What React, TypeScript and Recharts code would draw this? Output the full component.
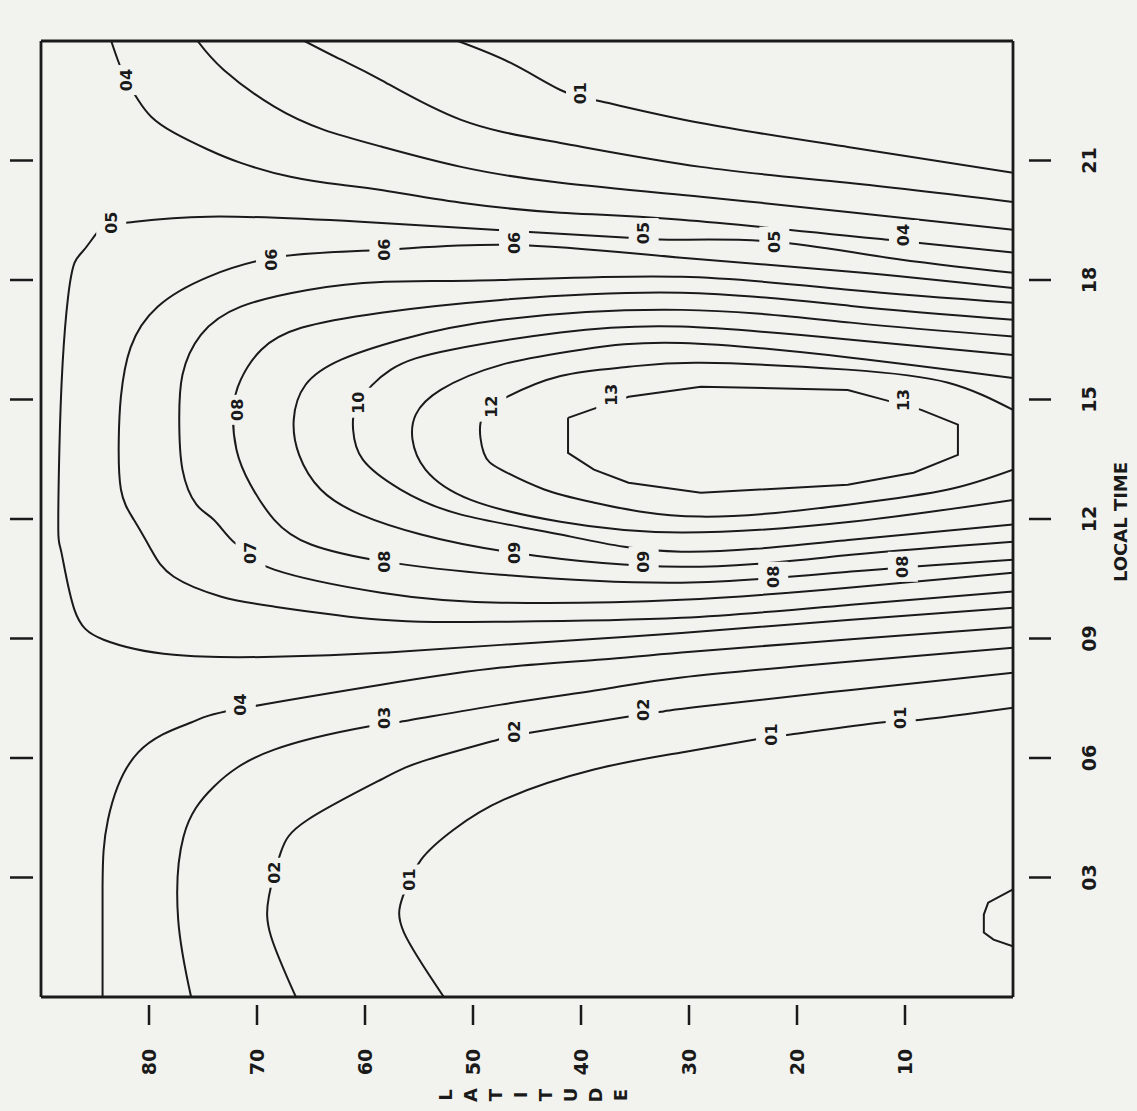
import React from 'react';
import { LineChart, Line, XAxis, YAxis, ReferenceDot } from 'recharts';

const latTicks = [10, 20, 30, 40, 50, 60, 70, 80];
const timeTicks = [3, 6, 9, 12, 15, 18, 21];
const timeLabels = ['03', '06', '09', '12', '15', '18', '21'];

// contour traces as [latitude, local time] pairs
const c00 = [[0, 2.7], [2.3, 2.37], [2.7, 2.07], [2.7, 1.62], [1.8, 1.44], [0, 1.27]];
const c01a = [[51.4, 24], [46.5, 23.45], [41.9, 22.77], [38.1, 22.48], [28.9, 21.94], [15.3, 21.34], [0, 20.69]];
const c01b = [[52.7, 0], [56.4, 1.62], [56.5, 2.52], [54.8, 3.45], [51.8, 4.2], [47.1, 4.96], [38.8, 5.71], [30.7, 6.14], [24.0, 6.46], [20.6, 6.59], [12.2, 6.89], [8.5, 6.96], [0, 7.26]];
const c02a = [[65.6, 24], [62.2, 23.53], [58.5, 23.02], [51.1, 22.02], [41.9, 21.44], [28.9, 20.84], [15.3, 20.44], [0, 19.96]];
const c02b = [[66.4, 0], [68.7, 1.52], [68.9, 2.52], [67.8, 3.63], [65.3, 4.45], [58.5, 5.46], [54.2, 5.96], [47.7, 6.46], [44.6, 6.64], [36.3, 7.01], [32.6, 7.16], [28.9, 7.29], [15.0, 7.71], [0, 8.14]];
const c03a = [[75.5, 24], [73.1, 23.28], [68.4, 22.35], [63.8, 21.77], [58.5, 21.35], [51.1, 20.84], [41.9, 20.44], [28.9, 20.09], [15.3, 19.71], [0, 19.26]];
const c03b = [[76.1, 0], [77.3, 1.95], [76.8, 4.03], [74.0, 5.28], [68.4, 6.21], [59.7, 6.79], [56.7, 6.91], [47.4, 7.34], [38.1, 7.72], [30.7, 8.02], [15.0, 8.42], [0, 8.77]];
const c04a = [[83.5, 24], [82.9, 23.53], [82.1, 23.02], [81.0, 22.52], [79.8, 22.1], [77.7, 21.7], [74.5, 21.27], [71.5, 20.94], [66.9, 20.59], [62.2, 20.39], [58.5, 20.26], [51.1, 19.94], [41.9, 19.69], [30.7, 19.51], [11.6, 19.01], [0, 18.69]];
const c04b = [[84.3, 0], [84.3, 2.77], [83.8, 4.45], [81.0, 6.14], [76.1, 6.89], [72.1, 7.21], [58.5, 7.84], [47.4, 8.27], [38.1, 8.47], [30.7, 8.65], [15.0, 8.98], [0, 9.28]];
const c05 = [[0, 18.18], [11.6, 18.56], [22.1, 18.96], [30.7, 19.01], [35.6, 19.06], [48.1, 19.26], [60.4, 19.46], [74.5, 19.59], [82.3, 19.43], [84.4, 19.31], [86.0, 18.76], [86.9, 18.43], [87.5, 17.56], [88.0, 15.9], [88.3, 13.74], [88.4, 11.73], [88.1, 11.15], [86.9, 9.72], [84.2, 8.97], [77.7, 8.59], [68.4, 8.54], [58.5, 8.64], [47.4, 8.84], [30.7, 9.14], [15.0, 9.47], [0, 9.77]];
const c06 = [[0, 17.8], [15.0, 18.21], [30.7, 18.56], [46.2, 18.88], [58.2, 18.76], [67.5, 18.6], [74.5, 18.08], [79.2, 17.33], [81.7, 16.31], [82.6, 15.07], [82.8, 13.99], [82.6, 12.74], [81.4, 11.98], [79.8, 11.23], [77.7, 10.55], [73.3, 10.05], [68.4, 9.8], [58.5, 9.47], [47.4, 9.42], [30.7, 9.52], [15.0, 9.85], [0, 10.18]];
const c07 = [[0, 17.43], [15.0, 17.75], [30.7, 18.08], [47.4, 18.0], [58.5, 17.95], [65.3, 17.75], [71.5, 17.33], [75.2, 16.62], [76.9, 15.62], [77.2, 14.49], [76.9, 13.24], [75.6, 12.36], [74.0, 11.98], [72.1, 11.41], [70.6, 11.15], [68.4, 10.73], [58.5, 10.15], [47.4, 9.9], [30.7, 9.97], [15.0, 10.28], [0, 10.65]];
const c08 = [[0, 17.0], [15.0, 17.35], [30.7, 17.68], [47.4, 17.5], [58.5, 17.18], [65.9, 16.8], [69.6, 16.25], [71.5, 15.5], [72.2, 14.74], [71.9, 13.74], [70.6, 12.86], [68.4, 11.98], [65.0, 11.36], [58.2, 10.93], [47.4, 10.6], [30.7, 10.4], [15.0, 10.68], [0, 10.98]];
const c09 = [[0, 16.58], [15.0, 16.93], [30.7, 17.25], [47.4, 17.0], [56.7, 16.5], [62.2, 16.0], [65.5, 15.37], [66.6, 14.49], [66.1, 13.61], [64.1, 12.74], [60.4, 12.11], [54.8, 11.61], [46.2, 11.15], [30.7, 10.8], [15.0, 11.1], [0, 11.43]];
const c10 = [[0, 16.12], [15.0, 16.5], [30.7, 16.83], [41.9, 16.68], [52.0, 16.25], [57.6, 15.75], [60.6, 14.92], [61.1, 14.24], [60.2, 13.49], [56.7, 12.74], [51.1, 12.11], [41.9, 11.61], [30.7, 11.18], [15.0, 11.48], [0, 11.86]];
const c11 = [[0, 15.54], [15.0, 16.05], [30.7, 16.42], [40.0, 16.25], [47.4, 15.87], [53.0, 15.24], [55.3, 14.62], [55.6, 13.99], [54.4, 13.24], [50.2, 12.48], [41.9, 11.93], [30.7, 11.66], [15.0, 11.93], [0, 12.48]];
const c12 = [[0, 14.74], [6.0, 15.42], [15.3, 15.75], [28.9, 15.92], [35.6, 15.82], [41.9, 15.59], [46.8, 15.07], [48.3, 14.82], [49.3, 14.42], [49.0, 13.66], [47.4, 13.24], [43.4, 12.74], [38.8, 12.41], [28.9, 12.06], [15.3, 12.36], [6.0, 12.74], [0, 13.24]];
const c13 = [[41.2, 14.54], [41.2, 13.66], [38.8, 13.24], [35.6, 12.91], [28.9, 12.66], [15.3, 12.86], [9.2, 13.16], [5.1, 13.61], [5.1, 14.37], [8.5, 14.74], [11.9, 14.99], [15.3, 15.24], [28.9, 15.32], [35.6, 15.07], [39.1, 14.74], [41.2, 14.54]];

const curved = [c01a, c01b, c02a, c02b, c03a, c03b, c04a, c04b, c05, c06, c07, c08, c09, c10, c11, c12];
const angular = [c00, c13];

// [latitude, local time, text]
const contourLabels: [number, number, string][] = [
  [82.1, 23.02, '04'], [40.0, 22.69, '01'], [83.5, 19.44, '05'],
  [68.7, 18.51, '06'], [58.2, 18.76, '06'], [46.2, 18.93, '06'],
  [34.2, 19.18, '05'], [22.1, 18.96, '05'], [10.1, 19.13, '04'],
  [71.8, 14.74, '08'], [60.6, 14.92, '10'], [48.3, 14.82, '12'],
  [37.2, 15.12, '13'], [10.1, 14.99, '13'],
  [70.6, 11.15, '07'], [58.2, 10.93, '08'], [46.2, 11.15, '09'],
  [34.2, 10.93, '09'], [22.2, 10.55, '08'], [10.2, 10.8, '08'],
  [71.5, 7.34, '04'], [58.2, 7.01, '03'], [46.2, 6.66, '02'],
  [34.2, 7.21, '02'], [22.4, 6.59, '01'], [10.4, 7.01, '01'],
  [68.4, 3.12, '02'], [55.9, 2.95, '01'],
];

const ink = '#1a1a1a';
const paper = '#f2f2ef';
const font = 'DejaVu Sans, sans-serif';

const toPts = (a: number[][]) => a.map(([lat, t]) => ({ lat, t }));

const rot = (x: number, y: number) => `rotate(-90 ${x} ${y})`;

const LatTick = ({ x, y, payload }: any) => {
  const ty = y + 65;
  return (
    <g>
      <line x1={x} x2={x} y1={y + 8} y2={y + 28} stroke={ink} strokeWidth={2.5} />
      <text x={x} y={ty} transform={rot(x, ty)} textAnchor="middle" dominantBaseline="central"
        fontSize={19} fontWeight="bold" fontFamily={font} fill={ink}>{payload.value}</text>
    </g>
  );
};

const TopTick = ({ x, y }: any) => (
  <line x1={x} x2={x} y1={y - 29} y2={y - 10} stroke={ink} strokeWidth={2.5} />
);

const TimeTick = ({ x, y, payload }: any) => {
  const tx = x + 76;
  return (
    <g>
      <line x1={x + 16} x2={x + 38} y1={y} y2={y} stroke={ink} strokeWidth={2.5} />
      <text x={tx} y={y} transform={rot(tx, y)} textAnchor="middle" dominantBaseline="central"
        fontSize={19} fontWeight="bold" fontFamily={font} fill={ink}>
        {timeLabels[timeTicks.indexOf(payload.value)]}
      </text>
    </g>
  );
};

const LeftTick = ({ x, y }: any) => (
  <line x1={x - 31} x2={x - 8} y1={y} y2={y} stroke={ink} strokeWidth={2.5} />
);

const LatTitle = ({ viewBox }: any) => {
  const cx = viewBox.x + viewBox.width / 2 + 6;
  const cy = viewBox.y + 98;
  return (
    <g>
      {'LATITUDE'.split('').map((ch, i) => {
        const x = cx + (i - 3.5) * 25;
        return (
          <text key={i} x={x} y={cy} transform={rot(x, cy)} textAnchor="middle" dominantBaseline="central"
            fontSize={18} fontWeight="bold" fontFamily={font} fill={ink}>{ch}</text>
        );
      })}
    </g>
  );
};

const TimeTitle = ({ viewBox }: any) => {
  const x = viewBox.x + 107;
  const y = viewBox.y + viewBox.height / 2 + 3;
  return (
    <text x={x} y={y} transform={rot(x, y)} textAnchor="middle" dominantBaseline="central"
      fontSize={18} fontWeight="bold" fontFamily={font} fill={ink}>LOCAL TIME</text>
  );
};

const ContourTag = ({ cx, cy, text }: any) => (
  <g>
    <rect x={cx - 15} y={cy - 15} width={30} height={30} fill={paper} />
    <text x={cx} y={cy} transform={rot(cx, cy)} textAnchor="middle" dominantBaseline="central"
      fontSize={16} fontWeight="bold" fontFamily={font} fill={ink}>{text}</text>
  </g>
);

const axisLine = { stroke: ink, strokeWidth: 2.8 };

export default function App() {
  return (
    <div style={{ position: 'absolute', left: 0, top: 0, width: 1137, height: 1111, background: paper }}>
      <LineChart width={1137} height={1111} margin={{ top: 0, right: 0, bottom: 0, left: 0 }}>
        <XAxis xAxisId="b" type="number" dataKey="lat" domain={[0, 90]} reversed ticks={latTicks}
          interval={0} height={114} tickSize={0} tickMargin={0} tickLine={false} axisLine={axisLine}
          tick={<LatTick />} label={<LatTitle />} allowDataOverflow />
        <XAxis xAxisId="t" orientation="top" type="number" domain={[0, 90]} reversed ticks={latTicks}
          interval={0} height={41} tickSize={0} tickMargin={0} tickLine={false} axisLine={axisLine}
          tick={<TopTick />} allowDataOverflow />
        <YAxis yAxisId="r" orientation="right" type="number" domain={[0, 24]} ticks={timeTicks}
          interval={0} width={124} tickSize={0} tickMargin={0} tickLine={false} axisLine={axisLine}
          tick={<TimeTick />} label={<TimeTitle />} allowDataOverflow />
        <YAxis yAxisId="l" orientation="left" type="number" domain={[0, 24]} ticks={timeTicks}
          interval={0} width={41} tickSize={0} tickMargin={0} tickLine={false} axisLine={axisLine}
          tick={<LeftTick />} allowDataOverflow />
        {curved.map((c, i) => (
          <Line key={'c' + i} data={toPts(c)} dataKey="t" xAxisId="b" yAxisId="r" type="natural"
            stroke={ink} strokeWidth={2} dot={false} activeDot={false} isAnimationActive={false} />
        ))}
        {angular.map((c, i) => (
          <Line key={'a' + i} data={toPts(c)} dataKey="t" xAxisId="b" yAxisId="r" type="linear"
            stroke={ink} strokeWidth={2} dot={false} activeDot={false} isAnimationActive={false} />
        ))}
        {contourLabels.map(([lat, t, text], i) => (
          <ReferenceDot key={'l' + i} x={lat} y={t} xAxisId="b" yAxisId="r" r={0}
            shape={(p: any) => <ContourTag cx={p.cx} cy={p.cy} text={text} />} />
        ))}
      </LineChart>
    </div>
  );
}
